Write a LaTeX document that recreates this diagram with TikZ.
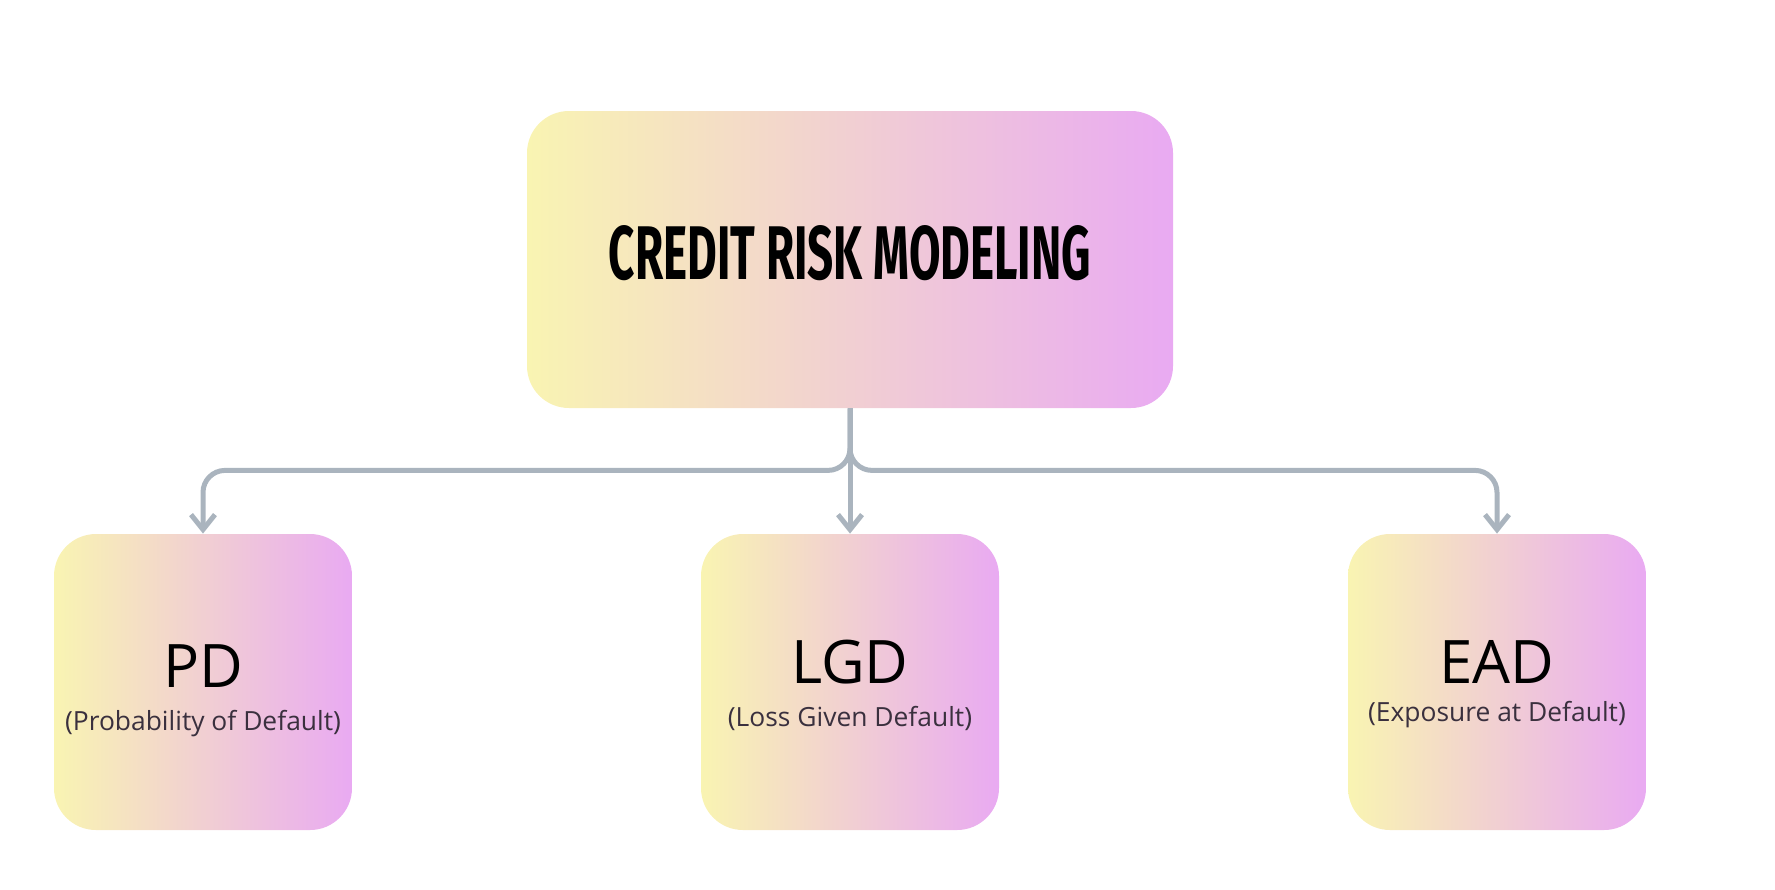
\documentclass[tikz,border=0pt]{standalone}
\usepackage{fontspec}
\setmainfont{Open Sans}
\newfontfamily\titlefont{Fira Sans}
\usetikzlibrary{arrows.meta}
\definecolor{cyel}{RGB}{249,244,178}
\definecolor{cmid}{RGB}{243,216,206}
\definecolor{cpink}{RGB}{233,170,242}
\definecolor{cline}{RGB}{170,180,190}
\definecolor{csub}{RGB}{58,48,62}
\begin{document}
\begin{tikzpicture}[x=0.5pt,y=-0.5pt,
  box/.style={rounded corners=21pt, left color=cyel, middle color=cmid, right color=cpink, draw=none, inner sep=0pt},
  smallbox/.style={box, minimum width=149pt, minimum height=148pt},
  conn/.style={draw=cline, line width=2.5pt, rounded corners=11pt, -{Straight Barb[length=7.5pt,width=12pt]}},
  abbr/.style={font=\fontsize{30}{36}\selectfont, text=black, inner sep=0pt},
  sub/.style={font=\fontsize{13.2}{16}\selectfont, text=csub, inner sep=0pt}
]
\useasboundingbox (0,0) rectangle (1775,889);
\node[box, minimum width=323pt, minimum height=148.5pt] (top) at (850,259.5) {};
\node[inner sep=0pt] (title) at (850,253.5) {\resizebox{241pt}{27pt}{\titlefont\bfseries CREDIT RISK MODELING}};

\node[smallbox] (pd) at (203,682) {};
\node[smallbox] (lgd) at (850,682) {};
\node[smallbox] (ead) at (1497,682) {};

\node[abbr] (pdt) at (203,666) {PD};
\node[sub] (pds) at (203,724) {(Probability of Default)};
\node[abbr] (lgdt) at (850,662) {LGD};
\node[sub] (lgds) at (850,718) {(Loss Given Default)};
\node[abbr] (eadt) at (1497,662) {EAD};
\node[sub] (eads) at (1497,715) {(Exposure at Default)};

\draw[conn] (top.south) -- ++(0,62) -| (pd.north);
\draw[conn] (top.south) -- (lgd.north);
\draw[conn] (top.south) -- ++(0,62) -| (ead.north);
\end{tikzpicture}
\end{document}
